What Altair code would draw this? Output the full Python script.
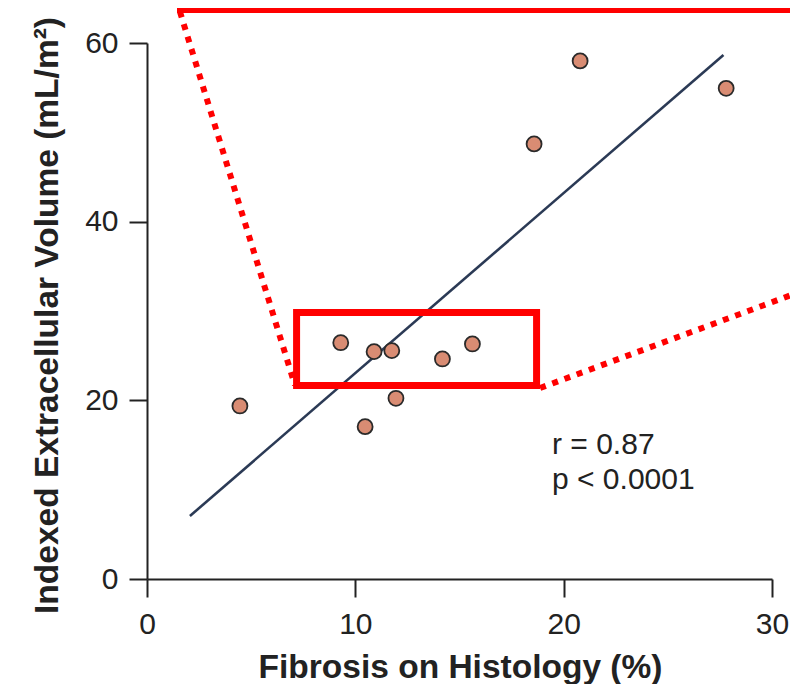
import altair as alt
import pandas as pd

# ---- data ----
fibrosis = [4.46, 10.47, 9.30, 10.90, 11.75, 11.95, 14.18, 15.62, 18.58, 20.79, 27.80]
ecv_index = [19.37, 17.05, 26.45, 25.45, 25.56, 20.23, 24.63, 26.31, 48.70, 57.99, 54.93]

fit_x = [2.06, 27.67]
fit_y = [7.05, 58.66]

stats_text = ["r = 0.87", "p < 0.0001"]
stats_x = [19.44, 19.44]
stats_y = [14.0, 10.1]

x_ticks = [0, 10, 20, 30]
y_ticks = [0, 20, 40, 60]

# annotation (zoom callout) in data units
box_x = [7.18]
box_x2 = [18.70]
box_y = [29.83]
box_y2 = [21.66]

seg_x1 = [1.44, 1.58, 18.87]
seg_y1 = [63.75, 63.5, 21.38]
seg_x2 = [40.85, 7.10, 40.9]
seg_y2 = [63.75, 21.7, 40.4]
seg_kind = ["solid", "dotted", "dotted"]

FONT = "Liberation Sans"
INK = "#222222"

pts = pd.DataFrame({"x": fibrosis, "y": ecv_index})
fit = pd.DataFrame({"x": fit_x, "y": fit_y})
stats = pd.DataFrame({"x": stats_x, "y": stats_y, "t": stats_text})
box = pd.DataFrame({"x": box_x, "x2": box_x2, "y": box_y, "y2": box_y2})
segs = pd.DataFrame({"x": seg_x1, "y": seg_y1, "x2": seg_x2, "y2": seg_y2, "k": seg_kind})

xs = alt.Scale(domain=[0, 30], nice=False, zero=False)
ys = alt.Scale(domain=[0, 60], nice=False, zero=False)

x_axis = alt.Axis(
    values=x_ticks, title="Fibrosis on Histology (%)", grid=False, labelFlush=False,
    domainColor=INK, domainWidth=2, tickColor=INK, tickWidth=2, tickSize=18,
    labelFont=FONT, labelFontSize=30, labelColor=INK, labelPadding=12,
    titleFont=FONT, titleFontSize=33.5, titleFontWeight="bold", titleColor=INK,
    titleX=313, titleY=98, titleBaseline="alphabetic", titleAnchor="middle",
)
y_axis = alt.Axis(
    values=y_ticks, title="Indexed Extracellular Volume (mL/m²)", grid=False,
    labelFlush=False,
    domainColor=INK, domainWidth=2, tickColor=INK, tickWidth=2, tickSize=18,
    labelFont=FONT, labelFontSize=30, labelColor=INK, labelPadding=11,
    titleFont=FONT, titleFontSize=33.5, titleFontWeight="bold", titleColor=INK,
    titleX=-90, titleY=272, titleBaseline="alphabetic", titleAngle=270,
    titleAlign="center",
)

X = alt.X("x:Q", scale=xs, axis=x_axis)
Y = alt.Y("y:Q", scale=ys, axis=y_axis)

line = alt.Chart(fit).mark_line(color="#2b3a55", strokeWidth=2.6).encode(x=X, y=Y)

points = alt.Chart(pts).mark_point(
    shape="circle", filled=True, size=225, fill="#d98c73", fillOpacity=1,
    stroke="#2a2a2a", strokeWidth=1.8, opacity=1,
).encode(x=X, y=Y)

text = alt.Chart(stats).mark_text(
    align="left", baseline="alphabetic", font=FONT, fontSize=30, color=INK,
).encode(x=X, y=Y, text="t:N")

solid = alt.Chart(segs).transform_filter(alt.datum.k == "solid").mark_rule(
    color="#ff0000", strokeWidth=7,
).encode(x=X, x2="x2:Q", y=Y, y2="y2:Q")

dotted = alt.Chart(segs).transform_filter(alt.datum.k == "dotted").mark_rule(
    color="#ff0000", strokeWidth=6, strokeDash=[6, 7], strokeCap="butt",
).encode(x=X, x2="x2:Q", y=Y, y2="y2:Q")

rect = alt.Chart(box).mark_rect(
    fillOpacity=0, stroke="#ff0000", strokeWidth=7,
).encode(x=X, x2="x2:Q", y=Y, y2="y2:Q")

chart = alt.layer(line, points, text, solid, dotted, rect).properties(
    width=625, height=536,
    padding={"left": 139, "top": 35, "right": 18, "bottom": 105},
    autosize="none",
    view=alt.ViewBackground(stroke="transparent", strokeWidth=0),
).configure_view(stroke="transparent", strokeWidth=0).configure(background="white")

chart.save("out.html", embed_options={"renderer": "svg", "actions": False})
